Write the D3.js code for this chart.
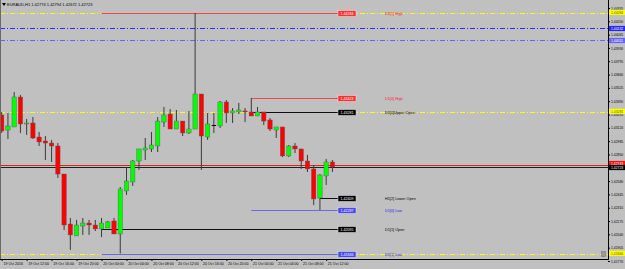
<!DOCTYPE html>
<html><head><meta charset="utf-8">
<script src="https://cdn.jsdelivr.net/npm/d3@7"></script>
<style>html,body{margin:0;padding:0;background:#c0c0c0;overflow:hidden}svg{display:block}</style>
</head><body>
<svg id="c" width="625" height="269"></svg>
<script>
// ---------- DATA ----------
const symbolTitle = "EURAUD,H1  1.42774 1.42794 1.42672 1.42723";
const timeTickIndex = [0,4,8,12,16,20,24,28,32,36,40,44,48,52];
const timeTickLabels = ["19 Oct 2016","19 Oct 12:00","19 Oct 16:00","19 Oct 20:00","20 Oct 00:00","20 Oct 04:00","20 Oct 08:00","20 Oct 12:00","20 Oct 16:00","20 Oct 20:00","21 Oct 00:00","21 Oct 04:00","21 Oct 08:00","21 Oct 12:00"];
const opens  = [1.43250,1.43098,1.43129,1.43433,1.43159,1.43169,1.43027,1.42987,1.42966,1.42936,1.42652,1.42145,1.42024,1.42125,1.42155,1.42135,1.42095,1.42105,1.42176,1.42044,1.42480,1.42571,1.42784,1.42895,1.42906,1.42936,1.43179,1.43260,1.43108,1.43189,1.43068,1.43108,1.43463,1.43027,1.43149,1.43139,1.43382,1.43271,1.43281,1.43291,1.43281,1.43240,1.43281,1.43200,1.43098,1.43129,1.42835,1.42936,1.42906,1.42784,1.42703,1.42409,1.42632,1.42774];
const highs  = [1.43281,1.43271,1.43483,1.43453,1.43210,1.43230,1.43078,1.43037,1.42997,1.42966,1.42652,1.42206,1.42186,1.42206,1.42186,1.42186,1.42206,1.42176,1.42206,1.42520,1.42723,1.42794,1.42906,1.43017,1.43078,1.43230,1.43331,1.43311,1.43301,1.43189,1.43291,1.44284,1.43463,1.43271,1.43271,1.43392,1.43402,1.43321,1.43372,1.43321,1.43423,1.43331,1.43281,1.43220,1.43129,1.43129,1.42946,1.42966,1.42906,1.42845,1.42743,1.42652,1.42804,1.42794];
const lows   = [1.43068,1.43007,1.43129,1.43068,1.43048,1.43007,1.42936,1.42794,1.42774,1.42612,1.42084,1.41882,1.42024,1.42034,1.42034,1.42074,1.42013,1.42105,1.42044,1.41846,1.42439,1.42531,1.42693,1.42794,1.42875,1.42875,1.43129,1.43108,1.43108,1.43037,1.43058,1.43108,1.42693,1.42997,1.43068,1.43118,1.43169,1.43169,1.43260,1.43179,1.43240,1.43240,1.43149,1.43088,1.43017,1.42824,1.42824,1.42865,1.42703,1.42672,1.42338,1.42287,1.42541,1.42672];
const closes = [1.43088,1.43139,1.43433,1.43159,1.43169,1.43017,1.42977,1.42966,1.42936,1.42652,1.42135,1.42034,1.42135,1.42155,1.42135,1.42095,1.42155,1.42166,1.42044,1.42500,1.42581,1.42784,1.42906,1.42916,1.42946,1.43189,1.43250,1.43108,1.43189,1.43068,1.43108,1.43463,1.43037,1.43159,1.43149,1.43382,1.43271,1.43291,1.43301,1.43281,1.43240,1.43281,1.43189,1.43108,1.43129,1.42835,1.42936,1.42906,1.42784,1.42703,1.42399,1.42642,1.42774,1.42723];
const priceTicks = [1.44335,1.44200,1.44065,1.43930,1.43795,1.43660,1.43525,1.43390,1.43255,1.43120,1.42985,1.42850,1.42715,1.42580,1.42445,1.42310,1.42175,1.42040,1.41905,1.41770];
// full-width dash-dot lines
const hlinePrices = [1.44284,1.44132,1.44011,1.43281,1.41846];
const hlineKinds  = ["yellow","blue","blue2","yellow","yellow"];
// labelled levels
const levelNames  = ["D1[1] High","D1[0] High","D1[0]Upper Open","H1[2] Lower Open","D1[0] Low","D1[1] Open","D1[1] Low"];
const levelPrices = [1.44284,1.43423,1.43281,1.42409,1.42287,1.42095,1.41846];
const levelStart  = [16,40,40,51,40,16,16];
const levelKinds  = ["high","high","open","open","low","open","low"];
const bidPrice = 1.42723, askPrice = 1.42743;

// ---------- DRAW ----------
const W = 625, H = 269, plotR = 608, plotB = 259;
const FONT = "Liberation Sans, Arial, sans-serif";
const svg = d3.select("#c");
svg.append("rect").attr("width",W).attr("height",H).attr("fill","#c0c0c0");

const x = d3.scaleLinear().domain([0, opens.length-1]).range([1.7, 1.7 + (opens.length-1)*6.24]);
const y = d3.scaleLinear().domain([1.41770, 1.44335]).range([261, 8]);
const py = d => Math.round(y(d)) + 0.5;

svg.append("clipPath").attr("id","clip").append("rect").attr("x",0).attr("y",0).attr("width",plotR).attr("height",plotB);
const plot = svg.append("g").attr("clip-path","url(#clip)");

const hColor = {yellow:"#ffff00", blue:"#2828ff", blue2:"#6464ff"};
plot.selectAll("line.hl").data(hlinePrices).join("line").attr("class","hl")
  .attr("x1",0).attr("x2",plotR).attr("y1",py).attr("y2",py)
  .attr("stroke",(d,i)=>hColor[hlineKinds[i]]).attr("stroke-width",1).attr("stroke-dasharray","5,2,1,2");

const kColor = {high:"#f04848", open:"#101010", low:"#6a6ae6"};
const kBox = {high:"#ff3030", open:"#000000", low:"#4848f0"};
const kText = {high:"#ff2020", open:"#000000", low:"#2828e8"};

// current price lines
plot.append("line").attr("x1",0).attr("x2",plotR).attr("y1",py(askPrice)).attr("y2",py(askPrice)).attr("stroke","#e02020");
plot.append("line").attr("x1",0).attr("x2",plotR).attr("y1",py(bidPrice)).attr("y2",py(bidPrice)).attr("stroke","#202020");

// level lines
plot.selectAll("line.lv").data(levelPrices).join("line").attr("class","lv")
  .attr("x1",(d,i)=>x(levelStart[i])).attr("x2",338)
  .attr("y1",py).attr("y2",py)
  .attr("stroke",(d,i)=>kColor[levelKinds[i]]).attr("stroke-width",1);

// candles
const idx = d3.range(opens.length);
plot.selectAll("line.wick").data(idx).join("line").attr("class","wick")
  .attr("x1",i=>x(i)).attr("x2",i=>x(i)).attr("y1",i=>y(highs[i])).attr("y2",i=>y(lows[i]))
  .attr("stroke","#3a3a3a").attr("stroke-width",1);
const bw = 4.4;
plot.selectAll("rect.body").data(idx).join("rect").attr("class","body")
  .attr("x",i=>x(i)-bw/2).attr("width",bw)
  .attr("y",i=>y(Math.max(opens[i],closes[i])))
  .attr("height",i=>Math.max(Math.abs(y(opens[i])-y(closes[i])),1))
  .attr("fill",i=>closes[i]>opens[i]?"#00ff00":(closes[i]<opens[i]?"#ff0000":"#000000"))
  .attr("stroke",i=>closes[i]===opens[i]?"none":"#5a5a5a").attr("stroke-width",0.4);

// level boxes + names
const lb = plot.selectAll("g.lb").data(levelPrices).join("g").attr("class","lb")
  .attr("transform",d=>`translate(338,${py(d)})`);
lb.append("rect").attr("x",0).attr("y",-3).attr("width",18).attr("height",6)
  .attr("fill",(d,i)=>kBox[levelKinds[i]]).attr("stroke","#e8e8e8").attr("stroke-width",0.5);
lb.append("text").attr("x",9).attr("y",0).attr("dy","0.35em").attr("text-anchor","middle")
  .attr("font-family",FONT).attr("font-size",3.6).attr("fill","#ffffff").text(d=>d3.format(".5f")(d));
plot.selectAll("text.ln").data(levelNames).join("text").attr("class","ln")
  .attr("x",385).attr("y",(d,i)=>py(levelPrices[i])).attr("dy","0.35em")
  .attr("font-family",FONT).attr("font-size",3.8).attr("fill",(d,i)=>kText[levelKinds[i]]).text(d=>d);

// left border
svg.append("line").attr("x1",0.5).attr("x2",0.5).attr("y1",0).attr("y2",plotB).attr("stroke","#6a6a6a");

// title
svg.append("path").attr("d","M2,3 L6,3 L4,6 Z").attr("fill","#000");
svg.append("text").attr("x",7).attr("y",5).attr("dy","0.35em").attr("font-family",FONT).attr("font-size",4)
  .attr("fill","#000").text(symbolTitle);

// price axis labels for the lines (positions)
const axisLabelPrices = hlinePrices.concat([askPrice, bidPrice]);
const axisLabelFill = hlineKinds.map(k=>hColor[k]).concat(["#ff1010","#000000"]);
const axisLabelText = hlineKinds.map(k=>k==="yellow"?"#606000":"#ffffff").concat(["#ffffff","#ffffff"]);
const labelY = (d,i) => py(d) - (axisLabelFill[i]==="#ffff00" ? 1.2 : 0) - (i===axisLabelPrices.length-2 ? 2 : 0);

// price axis (tick texts hidden under the bid/ask labels are dropped)
const visibleTicks = priceTicks.filter(t => Math.abs(y(t) - y(bidPrice)) > 4.5 && Math.abs(y(t) - y(askPrice)) > 4.5);
const yAxis = svg.append("g").attr("transform",`translate(${plotR},0)`)
  .call(d3.axisRight(y).tickValues(visibleTicks).tickFormat(d3.format(".5f")).tickSize(2).tickPadding(1));
yAxis.select(".domain").remove();
yAxis.selectAll("line").attr("stroke","#000");
yAxis.selectAll("text").attr("font-family",FONT).attr("font-size",3.4).attr("fill","#000");
svg.append("line").attr("x1",plotR+0.5).attr("x2",plotR+0.5).attr("y1",0).attr("y2",plotB+1).attr("stroke","#000");

// time axis
const xAxis = svg.append("g").attr("transform",`translate(0,${plotB})`)
  .call(d3.axisBottom(x).tickValues(timeTickIndex).tickFormat((d,i)=>timeTickLabels[i]).tickSize(2).tickPadding(1));
xAxis.select(".domain").remove();
xAxis.selectAll("line").attr("stroke","#000");
xAxis.selectAll("text").attr("text-anchor","start").attr("dx",1.2).attr("font-family",FONT).attr("font-size",3.6).attr("fill","#000");
svg.append("line").attr("x1",0).attr("x2",plotR+1).attr("y1",plotB+0.5).attr("y2",plotB+0.5).attr("stroke","#000");

const al = svg.selectAll("g.al").data(axisLabelPrices).join("g").attr("class","al")
  .attr("transform",(d,i)=>`translate(${plotR+1},${labelY(d,i)})`);
al.append("rect").attr("x",0).attr("y",-2.6).attr("width",17).attr("height",5.2).attr("fill",(d,i)=>axisLabelFill[i]);
al.append("text").attr("x",2).attr("dy","0.35em").attr("font-family",FONT).attr("font-size",3.4)
  .attr("fill",(d,i)=>axisLabelText[i]).text(d=>d3.format(".5f")(d));

// small shift marker bottom-right
svg.append("rect").attr("x",601.5).attr("y",251.5).attr("width",4).attr("height",5).attr("fill","#9a9a9a").attr("stroke","#6a6a6a").attr("stroke-width",0.5);
</script>
</body></html>
